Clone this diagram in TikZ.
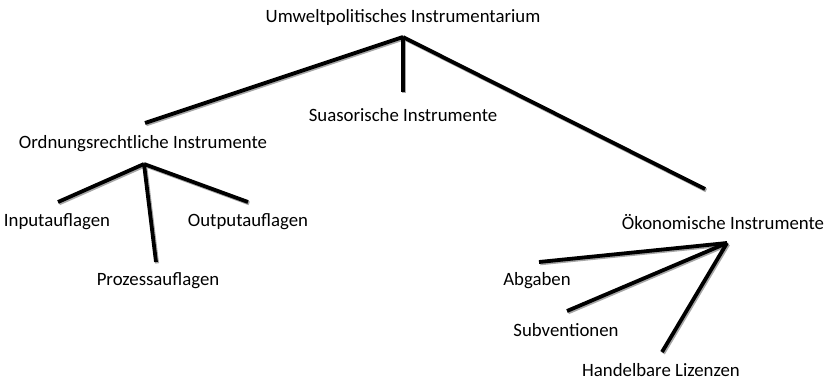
\documentclass[tikz,border=0pt]{standalone}
\usepackage{fontspec}
\setmainfont{Carlito}
\begin{document}
\begin{tikzpicture}[x=1pt,y=-1pt,
  lbl/.style={inner sep=0pt,font=\fontsize{18.8}{21}\selectfont,anchor=center},
  conn/.style={line width=3.8pt,line cap=butt,black},
  shad/.style={line width=3.8pt,line cap=butt,black!35,transform canvas={xshift=1.2pt,yshift=-1.4pt}}]
\useasboundingbox (0,0) rectangle (835,380);
% labels
\node[lbl] (root) at (403,17) {Umweltpolitisches Instrumentarium};
\node[lbl] (sua) at (403,115) {Suasorische Instrumente};
\node[lbl] (ord) at (143,144) {Ordnungsrechtliche Instrumente};
\node[lbl] (inp) at (57,222) {Inputauflagen};
\node[lbl] (out) at (248,222) {Outputauflagen};
\node[lbl] (pro) at (158,281) {Prozessauflagen};
\node[lbl] (oek) at (723,222) {Ökonomische Instrumente};
\node[lbl] (abg) at (537,281) {Abgaben};
\node[lbl] (sub) at (566,330) {Subventionen};
\node[lbl] (han) at (661,370) {Handelbare Lizenzen};
% connector points
\coordinate (a0) at (403,37);
\coordinate (a0l) at (145,123);
\coordinate (a0m) at (403,92);
\coordinate (a0r) at (705,189);
\coordinate (a1) at (144,164);
\coordinate (a1l) at (58,202);
\coordinate (a1r) at (248,202);
\coordinate (a1m) at (156,262);
\coordinate (a2) at (727,243);
\coordinate (a2a) at (539,262);
\coordinate (a2s) at (567,311);
\coordinate (a2h) at (662,352);
% shadows
\foreach \p/\q in {a0/a0l,a0/a0m,a0/a0r,a1/a1l,a1/a1r,a1/a1m,a2/a2a,a2/a2s,a2/a2h}
  \draw[shad] (\p) -- (\q);
% connectors
\foreach \p/\q in {a0/a0l,a0/a0m,a0/a0r,a1/a1l,a1/a1r,a1/a1m,a2/a2a,a2/a2s,a2/a2h}
  \draw[conn] (\p) -- (\q);
\end{tikzpicture}
\end{document}
